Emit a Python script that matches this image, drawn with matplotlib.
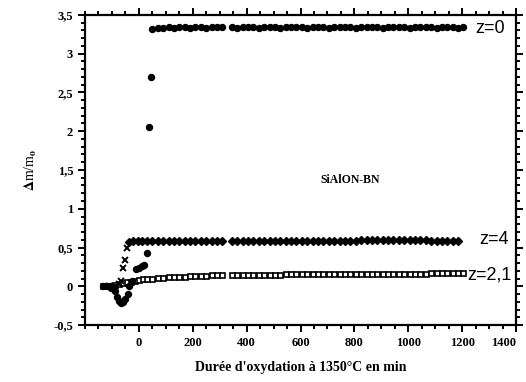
import matplotlib
matplotlib.use("Agg")
import matplotlib.pyplot as plt
from matplotlib.ticker import MultipleLocator

# z=0 : montée rapide puis plateau
z0_t = [-135, -120, -105, -90, -80, -72, -65, -58, -50, -42, -35, -25, -10, 0, 10, 20, 30, 37, 44,
        50, 70, 90, 110, 130, 150, 170, 190, 210, 230, 250, 270, 290, 310,
        345, 365, 385, 405, 425, 445, 465, 485, 505, 525, 545,
        565, 585, 605, 625, 645, 665, 685, 705, 725, 745, 765,
        785, 805, 825, 845, 865, 885, 905, 925, 945, 965, 985,
        1005, 1025, 1045, 1065, 1085, 1105, 1125, 1145, 1165, 1185, 1205]
z0_v = [0.0, 0.0, -0.02, -0.06, -0.14, -0.19, -0.22, -0.2, -0.16, -0.1, 0.0, 0.07, 0.22, 0.24, 0.26, 0.27, 0.43, 2.05, 2.7,
        3.32, 3.33, 3.33, 3.34, 3.33, 3.34, 3.34, 3.33, 3.34, 3.34, 3.33, 3.34, 3.34, 3.34,
        3.34, 3.33, 3.34, 3.34, 3.34, 3.33, 3.34, 3.34, 3.34, 3.33, 3.34,
        3.34, 3.34, 3.34, 3.33, 3.34, 3.34, 3.34, 3.33, 3.34, 3.34, 3.34,
        3.34, 3.33, 3.34, 3.34, 3.34, 3.34, 3.33, 3.34, 3.34, 3.34, 3.34,
        3.33, 3.34, 3.34, 3.34, 3.34, 3.33, 3.34, 3.34, 3.34, 3.33, 3.34]

# z=4 : début (croix) puis plateau
z4_debut_t = [-110, -90, -75, -65, -58, -52, -45]
z4_debut_v = [0.0, 0.01, 0.03, 0.07, 0.24, 0.34, 0.5]
z4_t = [-37, -20, -5, 10, 30, 50, 70, 90, 110, 130, 150, 170, 190, 210, 230, 250, 270, 290, 310,
        345, 365, 385, 405, 425, 445, 465, 485, 505, 525, 545,
        565, 585, 605, 625, 645, 665, 685, 705, 725, 745, 765,
        785, 805, 825, 845, 865, 885, 905, 925, 945, 965, 985,
        1005, 1025, 1045, 1065, 1085, 1105, 1125, 1145, 1165, 1185]
z4_v = [0.57, 0.58, 0.58, 0.58, 0.58, 0.58, 0.58, 0.58, 0.58, 0.58, 0.58, 0.58, 0.58, 0.58, 0.58, 0.58, 0.58, 0.58, 0.58,
        0.58, 0.58, 0.58, 0.58, 0.58, 0.58, 0.58, 0.58, 0.58, 0.58, 0.58,
        0.59, 0.59, 0.59, 0.59, 0.59, 0.59, 0.59, 0.59, 0.59, 0.59, 0.59,
        0.59, 0.59, 0.6, 0.6, 0.6, 0.6, 0.6, 0.6, 0.6, 0.6, 0.6,
        0.6, 0.6, 0.6, 0.6, 0.59, 0.59, 0.59, 0.59, 0.58, 0.58]

# z=2,1 : montée lente
z21_t = [-135, -120, -105, -90, -75, -60, -45, -30, -15, 0, 15, 30, 50, 70, 90, 110, 130, 150, 170, 190, 210, 230, 250, 270, 290, 310,
         345, 365, 385, 405, 425, 445, 465, 485, 505, 525, 545,
         565, 585, 605, 625, 645, 665, 685, 705, 725, 745, 765,
         785, 805, 825, 845, 865, 885, 905, 925, 945, 965, 985,
         1005, 1025, 1045, 1065, 1085, 1105, 1125, 1145, 1165, 1185, 1205]
z21_v = [0.0, 0.0, 0.01, 0.02, 0.03, 0.04, 0.05, 0.06, 0.07, 0.08, 0.09, 0.095, 0.1, 0.105, 0.11, 0.115, 0.12, 0.12, 0.125, 0.13, 0.13, 0.135, 0.135, 0.14, 0.14, 0.14,
         0.14, 0.14, 0.145, 0.145, 0.145, 0.15, 0.15, 0.15, 0.15, 0.15, 0.155,
         0.155, 0.155, 0.155, 0.155, 0.16, 0.16, 0.16, 0.16, 0.16, 0.16, 0.16,
         0.16, 0.16, 0.16, 0.16, 0.16, 0.165, 0.165, 0.165, 0.165, 0.165, 0.165,
         0.165, 0.165, 0.165, 0.165, 0.17, 0.17, 0.17, 0.17, 0.17, 0.17, 0.175]

x_ticks = [0, 200, 400, 600, 800, 1000, 1200, 1400]
y_ticks = [-0.5, 0, 0.5, 1, 1.5, 2, 2.5, 3, 3.5]
y_labels = ['-0,5', '0', '0,5', '1', '1,5', '2', '2,5', '3', '3,5']

plt.rcParams['font.family'] = ['Liberation Serif', 'DejaVu Serif']
plt.rcParams['font.weight'] = 'bold'
plt.rcParams['mathtext.fontset'] = 'stix'

fig = plt.figure(figsize=(5.26, 3.82), dpi=100)
ax = fig.add_axes([0.1616, 0.149, 0.8194, 0.812])

ax.plot(z21_t, z21_v, linestyle='none', marker='s', ms=3.6, mfc='white', mec='black', mew=1.2)
ax.plot(z4_t, z4_v, linestyle='none', marker='D', ms=3.6, color='black')
ax.plot(z4_debut_t, z4_debut_v, linestyle='none', marker='x', ms=4, mew=1.4, color='black')
ax.plot(z0_t, z0_v, linestyle='none', marker='o', ms=4.3, color='black')

ax.set_xlim(-200, 1400)
ax.set_ylim(-0.5, 3.5)
ax.set_xticks(x_ticks)
ax.set_yticks(y_ticks)
ax.set_yticklabels(y_labels)
ax.xaxis.set_minor_locator(MultipleLocator(50))
ax.yaxis.set_minor_locator(MultipleLocator(0.1))
ax.tick_params(which='both', direction='out', top=True, right=True, labelsize=9, width=1.4)
ax.tick_params(which='major', length=5)
ax.tick_params(which='minor', length=3)
for lab in ax.get_xticklabels() + ax.get_yticklabels():
    lab.set_fontweight('bold')
# le dernier label (1400) touche le bord droit
ax.get_xticklabels()[-1].set_horizontalalignment('right')
for s in ax.spines.values():
    s.set_linewidth(1.6)

ax.text(1250, 3.33, 'z=0', family='Liberation Sans', fontweight='normal', fontsize=13, va='center')
ax.text(1262, 0.6, 'z=4', family='Liberation Sans', fontweight='normal', fontsize=13, va='center')
ax.text(1218, 0.15, 'z=2,1', family='Liberation Sans', fontweight='normal', fontsize=13, va='center')
ax.text(785, 1.37, 'SiAlON-BN', fontsize=8.5, fontweight='bold', ha='center', va='center')

ax.set_xlabel("Durée d'oxydation à 1350°C en min", fontsize=10, fontweight='bold', labelpad=9)
ax.set_ylabel(r'$\Delta$m/m$_{\mathbf{o}}$', fontsize=10, labelpad=10)

plt.savefig('out.png', dpi=100)
